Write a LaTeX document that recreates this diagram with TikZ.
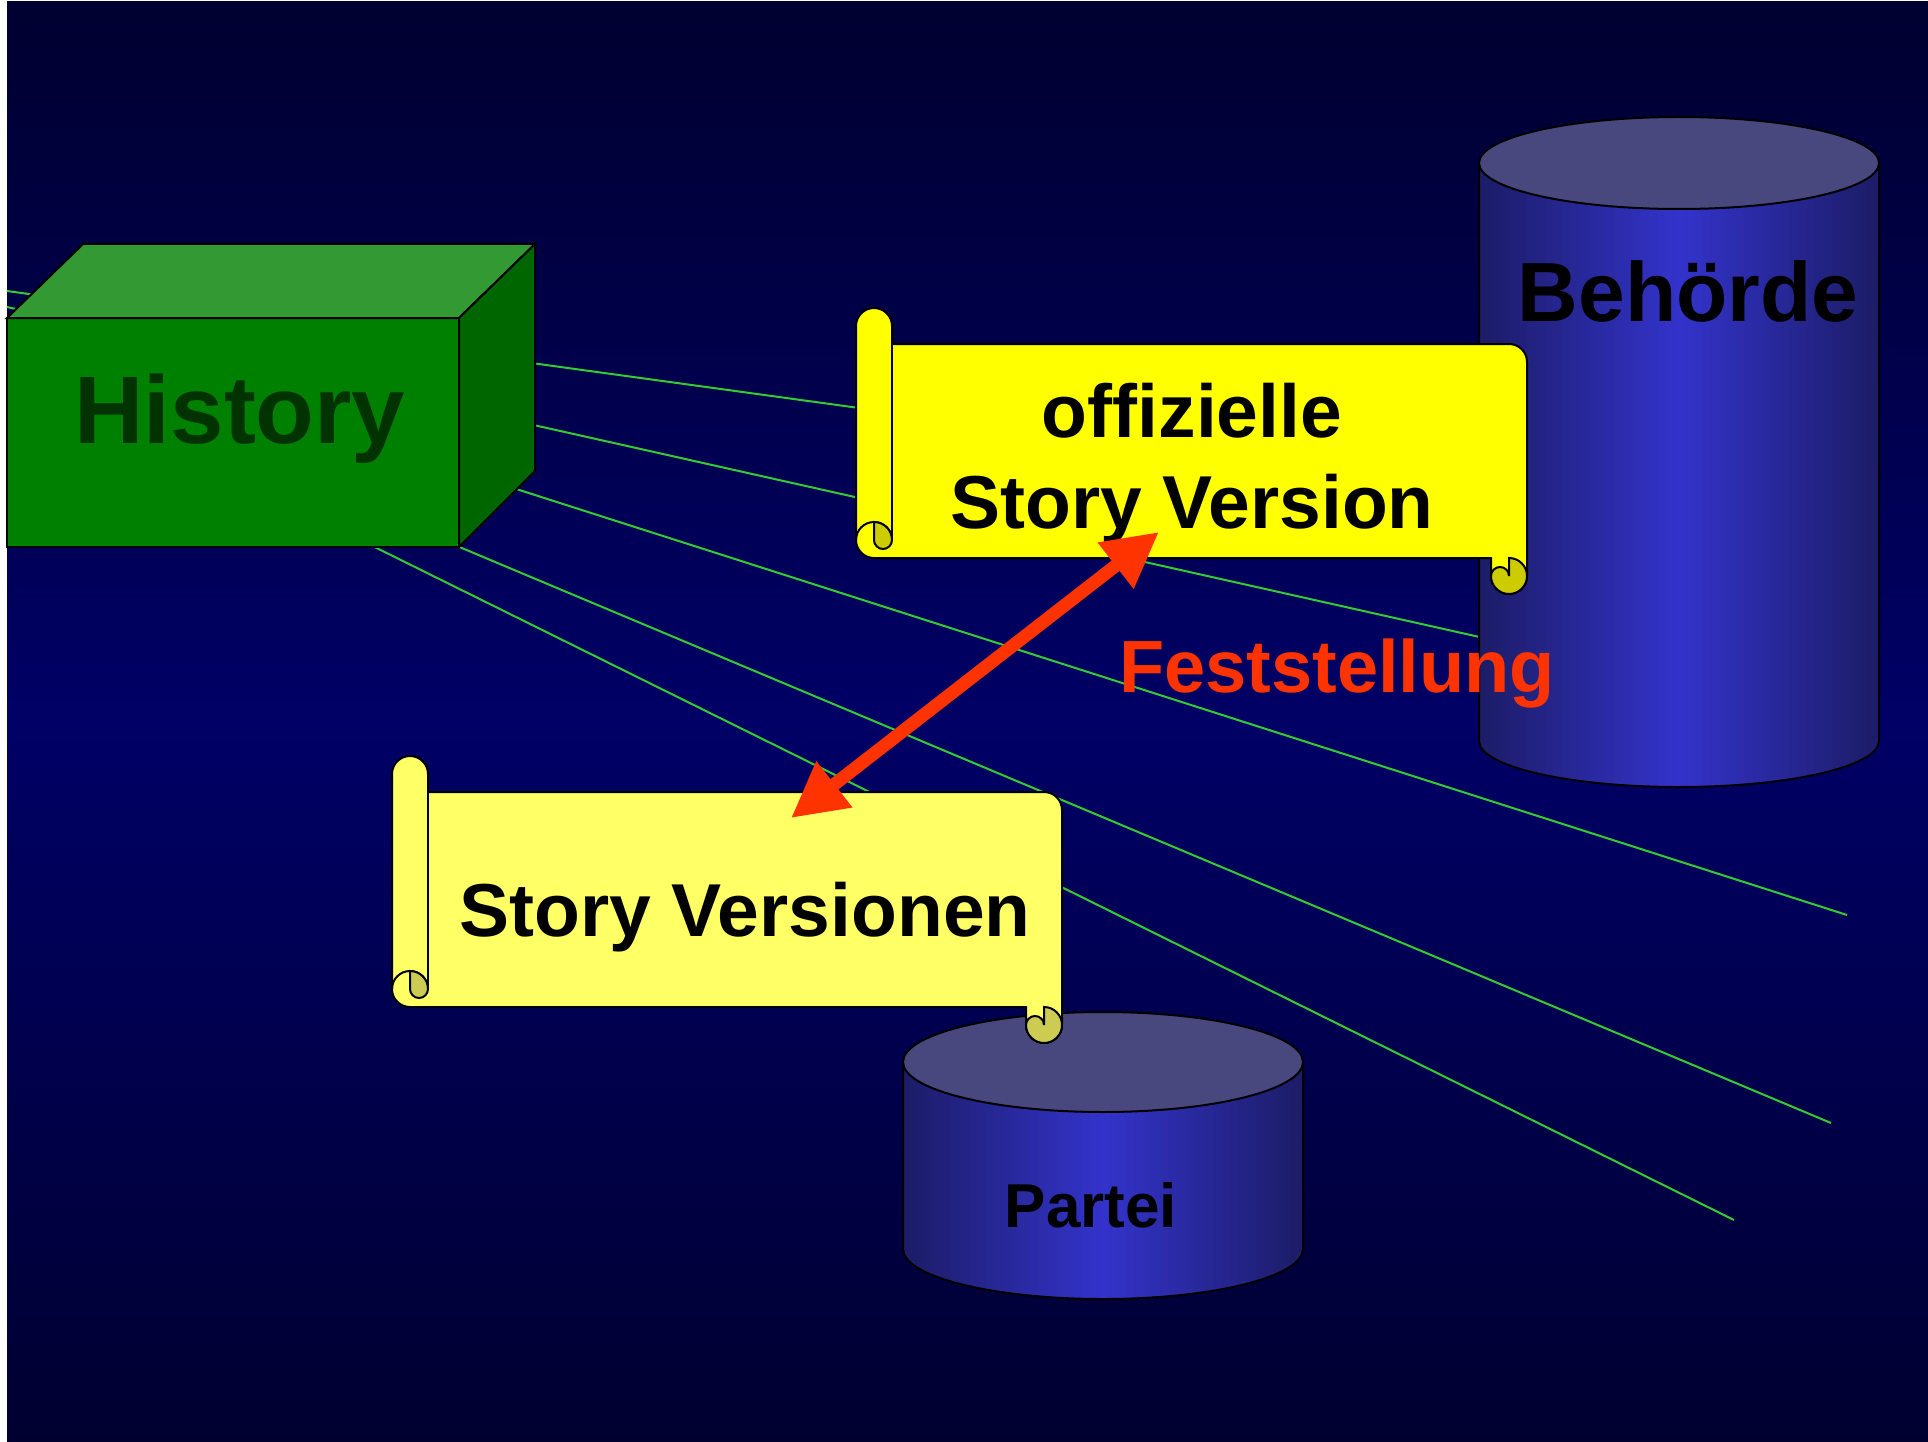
\documentclass[tikz,border=0pt]{standalone}
\usepackage{fontspec}
\setmainfont{Liberation Sans}
\usetikzlibrary{arrows.meta}

\definecolor{bgdark}{HTML}{000030}
\definecolor{bgmid}{HTML}{000066}
\definecolor{raygreen}{HTML}{33CC33}
\definecolor{boxfront}{HTML}{008000}
\definecolor{boxtop}{HTML}{339933}
\definecolor{boxside}{HTML}{006600}
\definecolor{boxtext}{HTML}{003300}
\definecolor{cyltop}{HTML}{48487F}
\definecolor{cylside}{HTML}{1C1C66}
\definecolor{cylmid}{HTML}{3333CC}
\definecolor{paperA}{HTML}{FFFF00}
\definecolor{curlA}{HTML}{CCCC00}
\definecolor{paperB}{HTML}{FFFF66}
\definecolor{curlB}{HTML}{CCCC52}
\definecolor{festred}{HTML}{FF3300}

\tikzset{
    ray/.style={raygreen, line width=2pt},
    outline/.style={draw=black, line width=2pt},
    bigtext/.style={font=\bfseries\fontsize{#1}{#1}\selectfont, inner sep=0pt, anchor=base},
    feststellpfeil/.style={festred, line width=13pt, >={Triangle[length=55pt,width=55pt]}, <->},
}

% scroll: #1,#2 top left, #3,#4 bottom right, #5 paper, #6 curl
\newcommand{\scrollshape}[6]{%
        \filldraw[outline, fill=#5] (#1+36,#2+36) -- (#3-18,#2+36)
            arc[start angle=270, end angle=360, radius=18] -- (#3,#4-18)
            arc[start angle=0, end angle=180, radius=18] -- (#3-36,#4-36)
            -- (#1+18,#4-36) arc[start angle=90, end angle=180, radius=18]
            -- (#1,#2+18) arc[start angle=180, end angle=360, radius=18] -- cycle;
        \draw[outline] (#1+36,#2+36) -- (#1+36,#4-54);
        \draw[outline] (#1,#4-54) arc[start angle=180, end angle=360, radius=18];
        \filldraw[outline, fill=#6] (#1+18,#4-72) arc[start angle=270, end angle=360, radius=18]
            arc[start angle=0, end angle=180, radius=9] -- cycle;
        \filldraw[outline, fill=#6] (#3-18,#4-36) -- (#3-18,#4-18)
            arc[start angle=0, end angle=-180, radius=9]
            arc[start angle=180, end angle=-90, radius=18] -- cycle;
}

% drum: #1 centre x, #2 top y, #3 bottom y, #4 x radius, #5 y radius
\newcommand{\drum}[5]{%
        \filldraw[outline, left color=cylside, right color=cylside, middle color=cylmid]
            (#1-#4,#2) -- (#1-#4,#3) arc[start angle=180, end angle=0, x radius=#4, y radius=#5]
            -- (#1+#4,#2) -- cycle;
        \filldraw[outline, fill=cyltop] (#1,#2) ellipse[x radius=#4, y radius=#5];
}

\begin{document}
\begin{tikzpicture}[x=1pt, y=-1pt]
        \useasboundingbox (0,0) rectangle (1928,1442);
        \fill[white] (0,0) rectangle (1928,1442);
        \shade[top color=bgdark, bottom color=bgdark, middle color=bgmid] (7,2) rectangle (1928,1442);

        % rays
        \draw[ray] (7,291) -- (1500,496);
        \draw[ray] (7,307) -- (1600,664);
        \draw[ray] (7,326) -- (1847,915);
        \draw[ray] (7,357) -- (1831,1123);
        \draw[ray] (7,365) -- (1734,1220);

        % history box
        \filldraw[outline, fill=boxfront] (7,318) rectangle (459,547);
        \filldraw[outline, fill=boxtop] (7,318) -- (83,244) -- (535,244) -- (459,318) -- cycle;
        \filldraw[outline, fill=boxside] (459,318) -- (535,244) -- (535,471) -- (459,547) -- cycle;
        \node[bigtext=96, text=boxtext] (history) at (240,443) {History};

        \drum{1679}{163}{741}{200}{46}
        \node[bigtext=84] (behoerde) at (1688,321) {Behörde};

        \scrollshape{856}{308}{1527}{594}{paperA}{curlA}
        \node[bigtext=75] (offiziell) at (1192,437) {offizielle};
        \node[bigtext=75] (story) at (1192,528) {Story Version};

        \drum{1103}{1062}{1249}{200}{50}
        \node[bigtext=62] (partei) at (1091,1227) {Partei};

        \scrollshape{392}{756}{1062}{1043}{paperB}{curlB}
        \node[bigtext=75] (versionen) at (745,936) {Story Versionen};

        \coordinate (festA) at (1159,532);
        \coordinate (festB) at (791,818);
        \draw[feststellpfeil] (festB) -- (festA);
        \node[bigtext=74, text=festred] (feststellung) at (1337,692) {Feststellung};
\end{tikzpicture}
\end{document}
